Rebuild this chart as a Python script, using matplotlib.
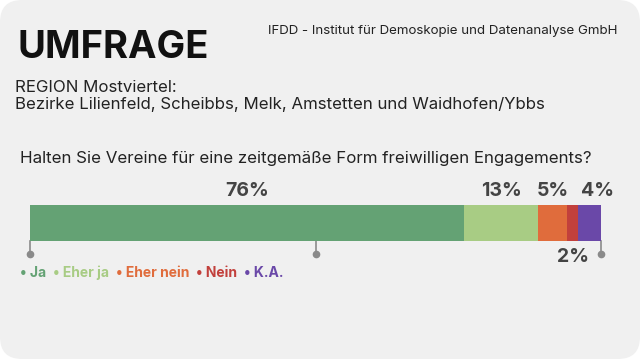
import matplotlib.pyplot as plt
from matplotlib.patches import FancyBboxPatch

plt.rcParams['font.family'] = ['Inter', 'DejaVu Sans']

categories = ['Ja', 'Eher ja', 'Eher nein', 'Nein', 'K.A.']
values = [76, 13, 5, 2, 4]
colors = ['#64a274', '#a8cc84', '#e06c3c', '#c2403c', '#6a48a8']
ticks = [0, 50, 100]

W, H = 640, 359
fig = plt.figure(figsize=(W / 100, H / 100), dpi=100)
fig.patch.set_facecolor('white')

# rounded gray card
bg = fig.add_axes([0, 0, 1, 1])
bg.set_xlim(0, W)
bg.set_ylim(H, 0)
bg.axis('off')
bg.add_patch(FancyBboxPatch((0, 0), W, H, boxstyle='round,pad=0,rounding_size=22',
                            fc='#f0f0f0', ec='none'))

bg.text(17, 48, 'UMFRAGE', fontsize=27.5, fontweight='bold', color='#111111', va='center')
bg.text(268, 31, 'IFDD - Institut für Demoskopie und Datenanalyse GmbH', fontsize=9.6,
        color='#222222', va='center')
bg.text(15, 87, 'REGION Mostviertel:', fontsize=12.1, color='#222222', va='center')
bg.text(15, 105, 'Bezirke Lilienfeld, Scheibbs, Melk, Amstetten und Waidhofen/Ybbs',
        fontsize=12.1, color='#222222', va='center')
bg.text(20, 158, 'Halten Sie Vereine für eine zeitgemäße Form freiwilligen Engagements?',
        fontsize=12.2, color='#222222', va='center')

# bar
x0, x1, y0, y1 = 30, 601, 205, 241
ax = fig.add_axes([x0 / W, 1 - y1 / H, (x1 - x0) / W, (y1 - y0) / H])
ax.set_xlim(0, 100)
ax.set_ylim(0, 1)
ax.axis('off')
left = 0
centers = []
for v, c in zip(values, colors):
    ax.barh(0.5, v, left=left, height=1, color=c, edgecolor='none')
    centers.append(left + v / 2)
    left += v

# labels
def px(v):
    return x0 + (x1 - x0) * v / 100

for i, v in enumerate(values):
    if categories[i] == 'Nein':
        bg.text(px(centers[i]) + 1, 257, f'{v}%', fontsize=14, fontweight='bold',
                color='#444444', ha='center', va='center')
    else:
        xx = px(centers[i]) + (8 if categories[i] == 'K.A.' else 0)
        bg.text(xx, 191, f'{v}%', fontsize=14, fontweight='bold',
                color='#444444', ha='center', va='center')

# axis ticks with dots
for t in ticks:
    bg.plot([px(t), px(t)], [y1, 254], color='#8a8a8a', lw=1.2)
    bg.plot(px(t), 254, 'o', color='#8a8a8a', ms=4.5)

# legend
lx = 20
for cat, c in zip(categories, colors):
    t = bg.text(lx, 273, '• ' + cat, fontsize=10, fontweight='bold', color=c, va='center')
    fig.canvas.draw()
    bb = t.get_window_extent()
    lx += bb.width + 7

fig.savefig('out.png', dpi=100, facecolor='white')
